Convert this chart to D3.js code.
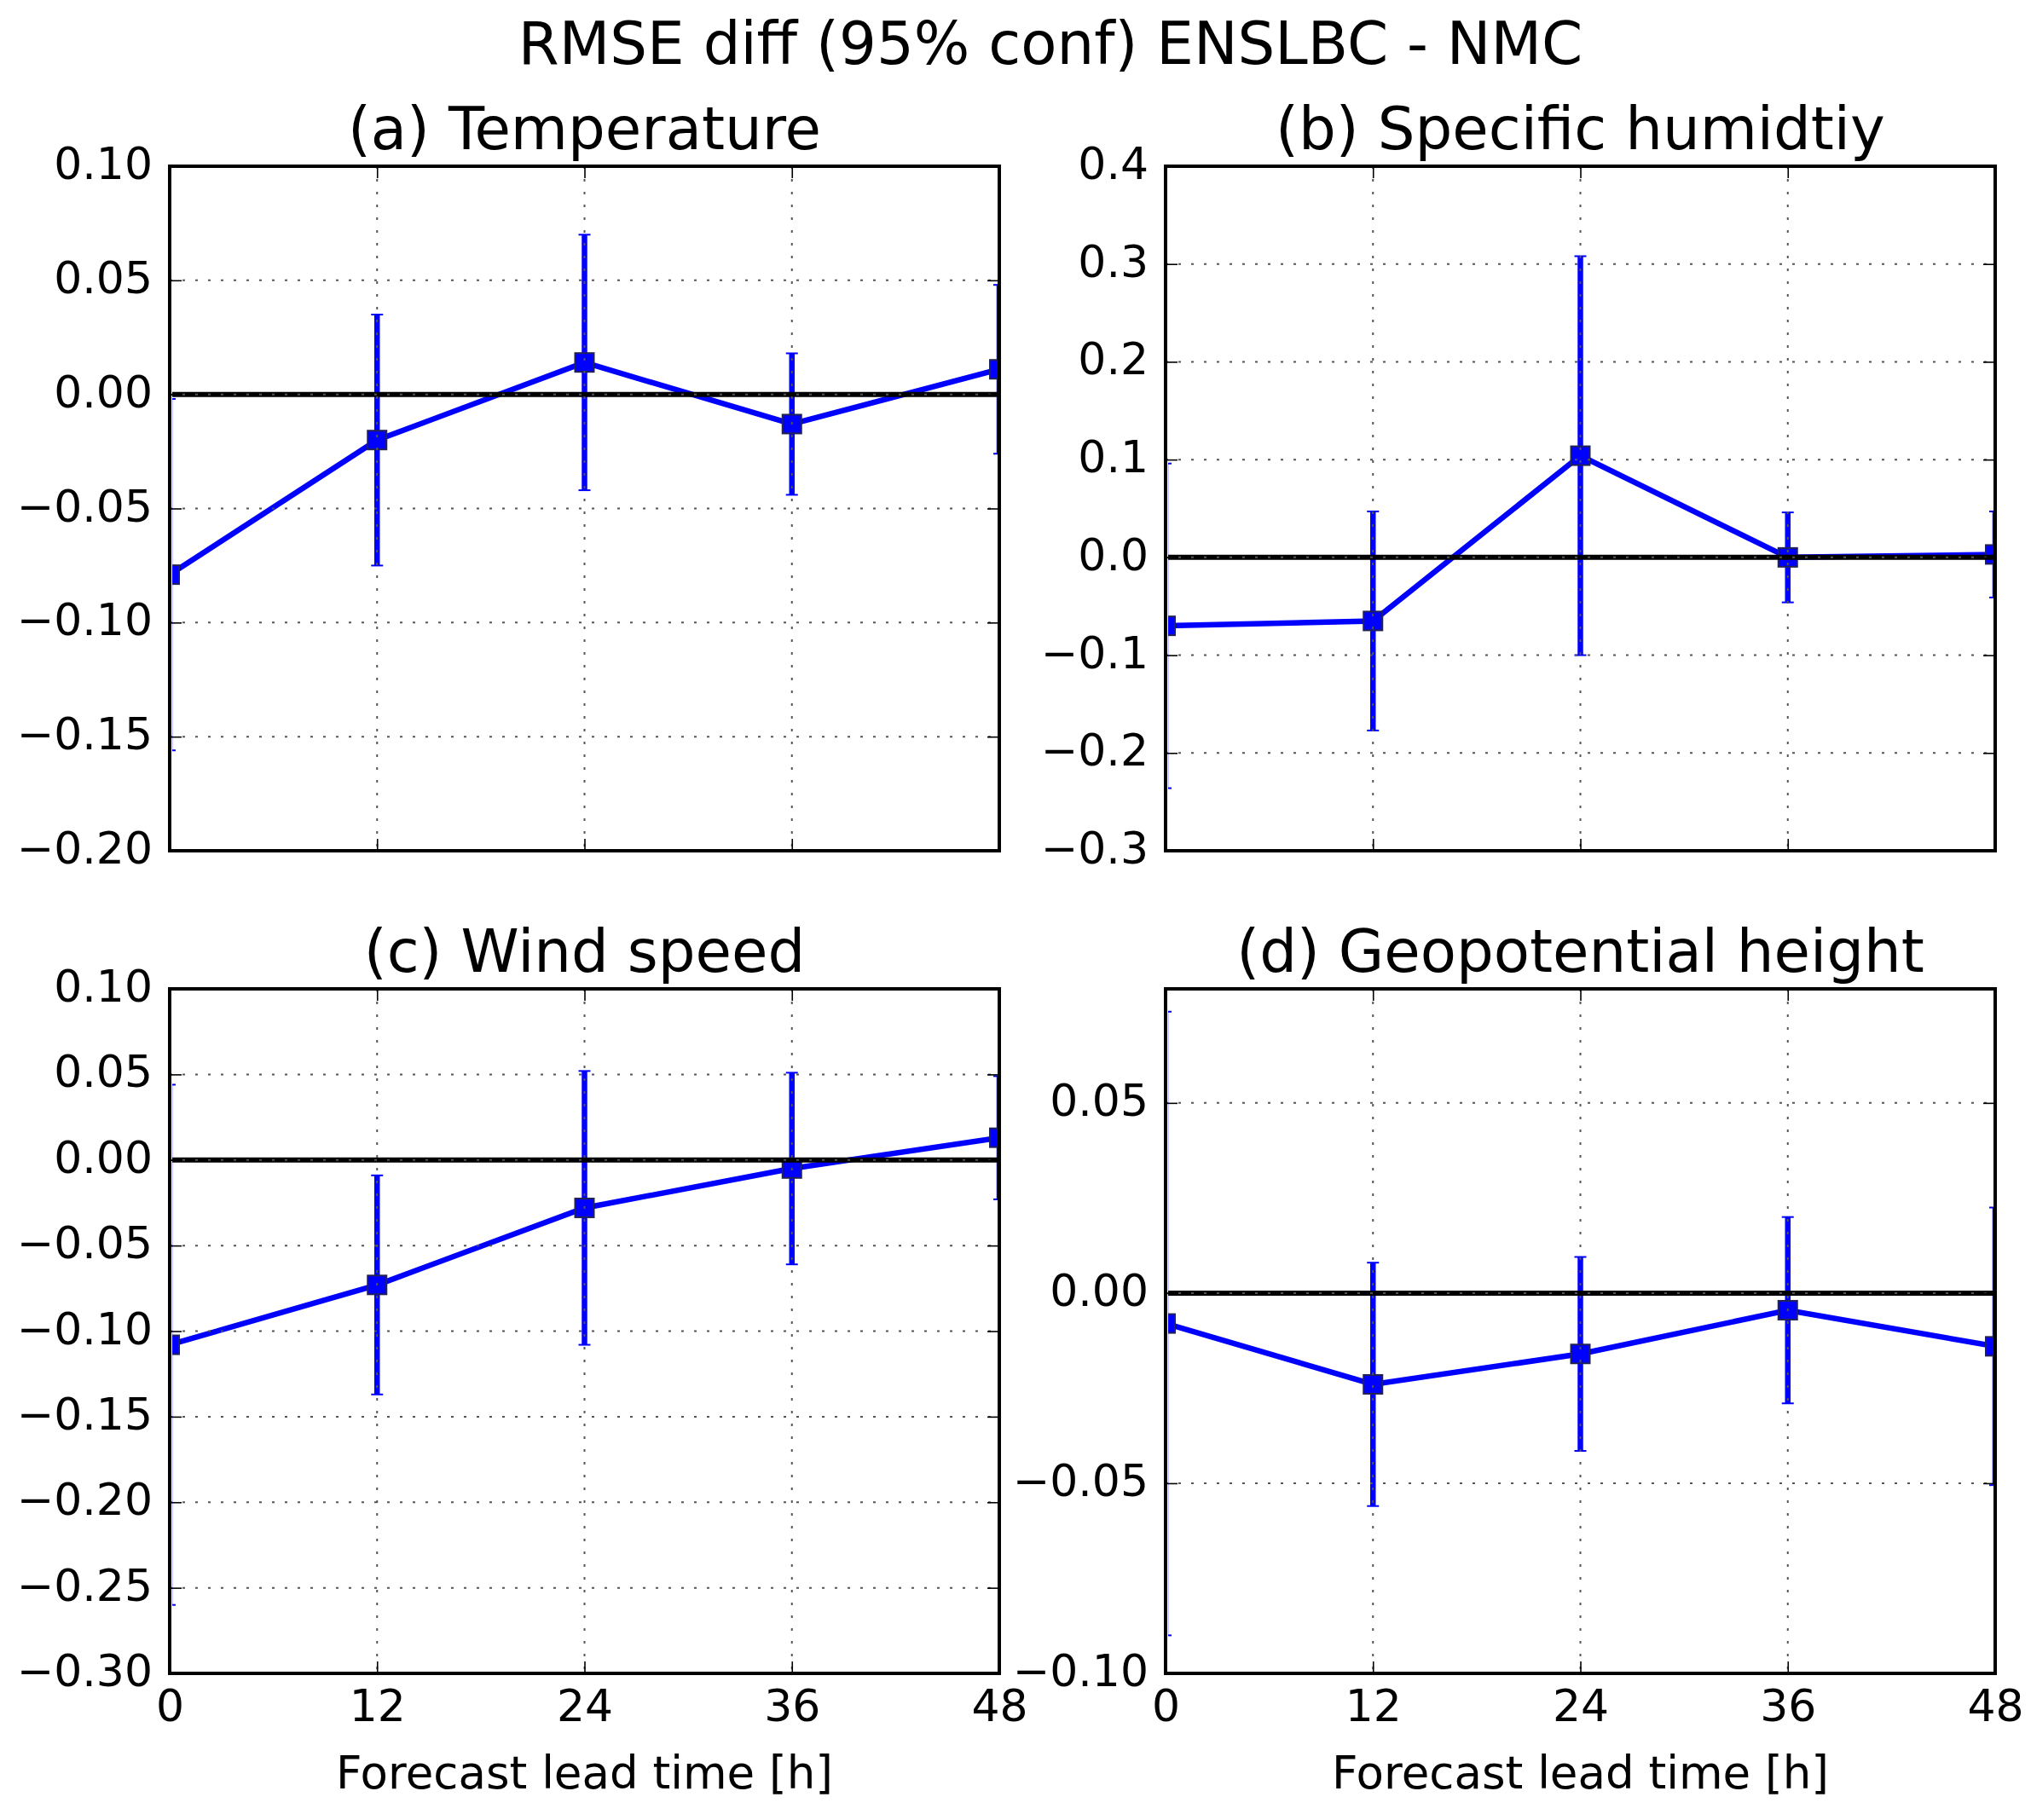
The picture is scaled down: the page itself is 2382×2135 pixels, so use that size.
<!DOCTYPE html>
<html lang="en">
<head>
  <meta charset="utf-8" />
  <style>
    body { margin: 0; background: #fff; }
    text { font-family: "DejaVu Sans", sans-serif; fill: #000; }
    .grid line { stroke: #555; stroke-width: 2; stroke-dasharray: 3,12; }
    .tick line { stroke: #000; stroke-width: 1.6; }
  </style>
</head>
<body>
<svg width="2382" height="2135"></svg>
<script src="https://d3js.org/d3.v7.min.js"></script>
<script>
var leadTimes = [0, 12, 24, 36, 48];

var tempDiff = [-0.079, -0.020, 0.014, -0.013, 0.011],
    tempErr  = [0.077, 0.055, 0.056, 0.031, 0.037],
    humDiff  = [-0.070, -0.065, 0.104, 0.000, 0.003],
    humErr   = [0.166, 0.112, 0.204, 0.046, 0.044],
    windDiff = [-0.108, -0.073, -0.028, -0.005, 0.013],
    windErr  = [0.152, 0.064, 0.080, 0.056, 0.036],
    geoDiff  = [-0.008, -0.024, -0.016, -0.0045, -0.014],
    geoErr   = [0.082, 0.032, 0.0255, 0.0245, 0.0365];

var tempTicks = [-0.20, -0.15, -0.10, -0.05, 0.00, 0.05, 0.10],
    humTicks  = [-0.3, -0.2, -0.1, 0.0, 0.1, 0.2, 0.3, 0.4],
    windTicks = [-0.30, -0.25, -0.20, -0.15, -0.10, -0.05, 0.00, 0.05, 0.10],
    geoTicks  = [-0.10, -0.05, 0.00, 0.05];

var titles = ["(a) Temperature", "(b) Specific humidtiy", "(c) Wind speed", "(d) Geopotential height"];

var svg = d3.select("svg"),
    blue = "#0000ff",
    tickLen = 14;

svg.append("text")
    .attr("x", 1232).attr("y", 75)
    .attr("text-anchor", "middle")
    .style("font-size", "69px")
    .text("RMSE diff (95% conf) ENSLBC - NMC");

var panels = [
  { title: titles[0], vals: tempDiff, errs: tempErr, ticks: tempTicks, domain: [-0.2, 0.1], fmt: ".2f", x0: 199, y0: 195, xlab: false },
  { title: titles[1], vals: humDiff, errs: humErr, ticks: humTicks, domain: [-0.3, 0.4], fmt: ".1f", x0: 1367, y0: 195, xlab: false },
  { title: titles[2], vals: windDiff, errs: windErr, ticks: windTicks, domain: [-0.3, 0.1], fmt: ".2f", x0: 199, y0: 1160, xlab: true },
  { title: titles[3], vals: geoDiff, errs: geoErr, ticks: geoTicks, domain: [-0.1, 0.08], fmt: ".2f", x0: 1367, y0: 1160, xlab: true }
];

var w = 973, h = 803;

panels.forEach(function(p, i) {
  var g = svg.append("g").attr("transform", "translate(" + p.x0 + "," + p.y0 + ")");
  var x = d3.scaleLinear().domain([0, 48]).range([0, w]),
      y = d3.scaleLinear().domain(p.domain).range([h, 0]);

  // clip slightly inside the left spine, the bar at t=0 hides under it
  var clipId = "clip" + i;
  g.append("clipPath").attr("id", clipId)
    .append("rect").attr("x", 3).attr("width", w - 3).attr("height", h);

  var plot = g.append("g").attr("clip-path", "url(#" + clipId + ")");

  var rows = leadTimes.map(function(t, j) {
    return { t: t, v: p.vals[j], e: p.errs[j] };
  });

  // error bars
  plot.selectAll(".ebar").data(rows).enter().append("line")
    .attr("x1", function(d) { return x(d.t); })
    .attr("x2", function(d) { return x(d.t); })
    .attr("y1", function(d) { return y(d.v - d.e); })
    .attr("y2", function(d) { return y(d.v + d.e); })
    .attr("stroke", blue).attr("stroke-width", 6.5);

  rows.forEach(function(d) {
    [d.v - d.e, d.v + d.e].forEach(function(c) {
      plot.append("line")
        .attr("x1", x(d.t) - 7).attr("x2", x(d.t) + 7)
        .attr("y1", y(c)).attr("y2", y(c))
        .attr("stroke", blue).attr("stroke-width", 2);
    });
  });

  // line + markers
  plot.append("path")
    .datum(rows)
    .attr("fill", "none")
    .attr("stroke", blue)
    .attr("stroke-width", 6.5)
    .attr("d", d3.line().x(function(d) { return x(d.t); }).y(function(d) { return y(d.v); }));

  plot.selectAll(".mk").data(rows).enter().append("rect")
    .attr("x", function(d) { return x(d.t) - 11; })
    .attr("y", function(d) { return y(d.v) - 11; })
    .attr("width", 22).attr("height", 22)
    .attr("fill", blue)
    .attr("stroke", "#222255").attr("stroke-width", 2);

  // zero line
  plot.append("line")
    .attr("x1", 0).attr("x2", w)
    .attr("y1", y(0)).attr("y2", y(0))
    .attr("stroke", "#000").attr("stroke-width", 6);

  // grid (drawn above the data, as in the original)
  var grid = g.append("g").attr("class", "grid");
  grid.selectAll(".gy").data(p.ticks).enter().append("line")
    .attr("x1", 0).attr("x2", w)
    .attr("y1", function(d) { return y(d); }).attr("y2", function(d) { return y(d); });
  grid.selectAll(".gx").data(leadTimes).enter().append("line")
    .attr("x1", function(d) { return x(d); }).attr("x2", function(d) { return x(d); })
    .attr("y1", 0).attr("y2", h);

  // axes with inward ticks
  var yAxis = g.append("g")
    .call(d3.axisLeft(y).tickValues(p.ticks).tickFormat(d3.format(p.fmt))
      .tickSizeInner(-tickLen).tickSizeOuter(0).tickPadding(20));
  yAxis.select(".domain").remove();
  yAxis.selectAll("text").style("font-size", "52px").attr("dy", "0.28em");

  var yRight = g.append("g").attr("transform", "translate(" + w + ",0)")
    .call(d3.axisRight(y).tickValues(p.ticks).tickFormat("")
      .tickSizeInner(-tickLen).tickSizeOuter(0));
  yRight.select(".domain").remove();

  var xAxis = g.append("g").attr("transform", "translate(0," + h + ")")
    .call(d3.axisBottom(x).tickValues(leadTimes).tickFormat(p.xlab ? d3.format("d") : "")
      .tickSizeInner(-tickLen).tickSizeOuter(0).tickPadding(19));
  xAxis.select(".domain").remove();
  xAxis.selectAll("text").style("font-size", "52px");

  var xTop = g.append("g")
    .call(d3.axisTop(x).tickValues(leadTimes).tickFormat("")
      .tickSizeInner(-tickLen).tickSizeOuter(0));
  xTop.select(".domain").remove();

  // frame
  g.append("rect")
    .attr("width", w).attr("height", h)
    .attr("fill", "none").attr("stroke", "#000").attr("stroke-width", 4);

  g.append("text")
    .attr("x", w / 2).attr("y", -20)
    .attr("text-anchor", "middle")
    .style("font-size", "69px")
    .text(p.title);

  if (p.xlab) {
    g.append("text")
      .attr("x", w / 2).attr("y", 2098 - p.y0)
      .attr("text-anchor", "middle")
      .style("font-size", "53px")
      .text("Forecast lead time [h]");
  }
});
</script>
</body>
</html>
